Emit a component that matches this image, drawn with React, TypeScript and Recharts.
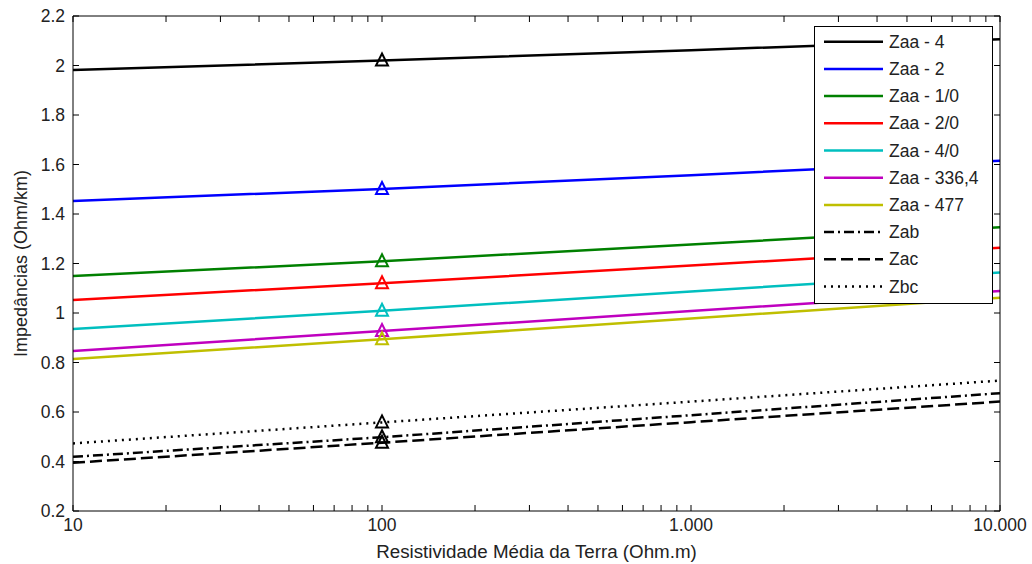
import React from 'react';
import { LineChart, Line, XAxis, YAxis, Legend } from 'recharts';

// resistividade (Ohm.m), eixo log
const resistivity = [10, 100, 1000, 10000];

// impedancias (Ohm/km)
const zaa4 = [1.982, 2.02, 2.062, 2.106];
const zaa2 = [1.453, 1.501, 1.557, 1.615];
const zaa10 = [1.149, 1.209, 1.277, 1.346];
const zaa20 = [1.053, 1.12, 1.192, 1.264];
const zaa40 = [0.935, 1.009, 1.087, 1.164];
const zaa3364 = [0.846, 0.927, 1.008, 1.089];
const zaa477 = [0.814, 0.894, 0.978, 1.062];
const zab = [0.419, 0.498, 0.587, 0.676];
const zac = [0.395, 0.476, 0.559, 0.642];
const zbc = [0.473, 0.558, 0.642, 0.727];

const xTicks = [10, 100, 1000, 10000];
const xMinorTicks = [
  10, 20, 30, 40, 50, 60, 70, 80, 90,
  100, 200, 300, 400, 500, 600, 700, 800, 900,
  1000, 2000, 3000, 4000, 5000, 6000, 7000, 8000, 9000, 10000,
];
const yTicks = [0.2, 0.4, 0.6, 0.8, 1, 1.2, 1.4, 1.6, 1.8, 2, 2.2];
const markerAt = 100;

const series = [
  { key: 'zaa4', name: 'Zaa - 4', values: zaa4, color: '#000000', dash: undefined },
  { key: 'zaa2', name: 'Zaa - 2', values: zaa2, color: '#0000ff', dash: undefined },
  { key: 'zaa10', name: 'Zaa - 1/0', values: zaa10, color: '#008000', dash: undefined },
  { key: 'zaa20', name: 'Zaa - 2/0', values: zaa20, color: '#ff0000', dash: undefined },
  { key: 'zaa40', name: 'Zaa - 4/0', values: zaa40, color: '#00bfbf', dash: undefined },
  { key: 'zaa3364', name: 'Zaa - 336,4', values: zaa3364, color: '#bf00bf', dash: undefined },
  { key: 'zaa477', name: 'Zaa - 477', values: zaa477, color: '#bfbf00', dash: undefined },
  { key: 'zab', name: 'Zab', values: zab, color: '#000000', dash: '10 4 2 4' },
  { key: 'zac', name: 'Zac', values: zac, color: '#000000', dash: '12 5' },
  { key: 'zbc', name: 'Zbc', values: zbc, color: '#000000', dash: '2 5' },
];

const data = resistivity.map((r, i) => {
  const row: Record<string, number> = { r };
  series.forEach((s) => { row[s.key] = s.values[i]; });
  return row;
});

const fmtX = (v: number) => String(v).replace(/\B(?=(\d{3})+(?!\d))/g, '.');
const fmtY = (v: number) => String(Math.round(v * 10) / 10);
const noLabel = () => '';

const makeTriangle = (color: string) => (props: any) => {
  const { cx, cy, payload, index } = props;
  if (payload.r !== markerAt || cx == null) return <g key={index} />;
  return (
    <path
      key={index}
      d={`M${cx},${cy - 7} L${cx + 6},${cy + 5} L${cx - 6},${cy + 5} Z`}
      fill="none"
      stroke={color}
      strokeWidth={2}
    />
  );
};

const renderLegend = () => (
  <svg width={179} height={278} style={{ display: 'block' }}>
    <rect x={0.5} y={0.5} width={178} height={277} fill="#fff" stroke="#000" />
    {series.map((s, i) => {
      const cy = 15.7 + i * 27.2;
      return (
        <g key={s.key}>
          <line x1={10} x2={69} y1={cy} y2={cy} stroke={s.color} strokeWidth={2.5} strokeDasharray={s.dash} />
          <text x={75} y={cy} dy="0.35em" fontSize={17.5} fill="#222">{s.name}</text>
        </g>
      );
    })}
  </svg>
);

export default function App() {
  return (
    <div style={{ position: 'absolute', left: 0, top: 0, width: 1032, height: 564, background: '#fff', fontFamily: '"Liberation Sans", Arial, sans-serif' }}>
      <LineChart width={1032} height={564} data={data} margin={{ top: 16, right: 32, bottom: 0, left: 0 }}>
        <XAxis
          xAxisId="x"
          dataKey="r"
          type="number"
          scale="log"
          domain={[10, 10000]}
          allowDataOverflow
          ticks={xTicks}
          tickFormatter={fmtX}
          tickLine={false}
          axisLine={{ stroke: '#000' }}
          height={53}
          tick={{ fontSize: 17.5, fill: '#222' }}
          label={{ value: 'Resistividade Média da Terra (Ohm.m)', position: 'insideBottom', offset: 6, fontSize: 18.75, fill: '#222' }}
        />
        <XAxis
          xAxisId="xb"
          dataKey="r"
          type="number"
          scale="log"
          domain={[10, 10000]}
          allowDataOverflow
          ticks={xMinorTicks}
          mirror
          tickFormatter={noLabel}
          axisLine={false}
          tickLine={{ stroke: '#000' }}
          tickSize={6}
        />
        <XAxis
          xAxisId="xt"
          orientation="top"
          dataKey="r"
          type="number"
          scale="log"
          domain={[10, 10000]}
          allowDataOverflow
          ticks={xMinorTicks}
          mirror
          tickFormatter={noLabel}
          axisLine={{ stroke: '#000' }}
          tickLine={{ stroke: '#000' }}
          tickSize={6}
        />
        <YAxis
          yAxisId="y"
          type="number"
          domain={[0.2, 2.2]}
          allowDataOverflow
          ticks={yTicks}
          tickFormatter={fmtY}
          tickLine={false}
          axisLine={{ stroke: '#000' }}
          width={73}
          tick={{ fontSize: 17.5, fill: '#222' }}
          label={{ value: 'Impedâncias (Ohm/km)', angle: -90, position: 'center', dx: -16, fontSize: 18, fill: '#222' }}
        />
        <YAxis
          yAxisId="yl"
          type="number"
          domain={[0.2, 2.2]}
          allowDataOverflow
          ticks={yTicks}
          mirror
          tickFormatter={noLabel}
          axisLine={false}
          tickLine={{ stroke: '#000' }}
          tickSize={6}
        />
        <YAxis
          yAxisId="yr"
          orientation="right"
          type="number"
          domain={[0.2, 2.2]}
          allowDataOverflow
          ticks={yTicks}
          mirror
          tickFormatter={noLabel}
          axisLine={{ stroke: '#000' }}
          tickLine={{ stroke: '#000' }}
          tickSize={6}
        />
        {series.map((s) => (
          <Line
            key={s.key}
            xAxisId="x"
            yAxisId="y"
            type="linear"
            dataKey={s.key}
            name={s.name}
            stroke={s.color}
            strokeWidth={2.5}
            strokeDasharray={s.dash}
            dot={makeTriangle(s.color)}
            activeDot={false}
            isAnimationActive={false}
          />
        ))}
        <Legend
          layout="vertical"
          align="center"
          verticalAlign="middle"
          content={renderLegend}
          wrapperStyle={{ left: 814, top: 26, width: 179, height: 278 }}
        />
      </LineChart>
    </div>
  );
}
